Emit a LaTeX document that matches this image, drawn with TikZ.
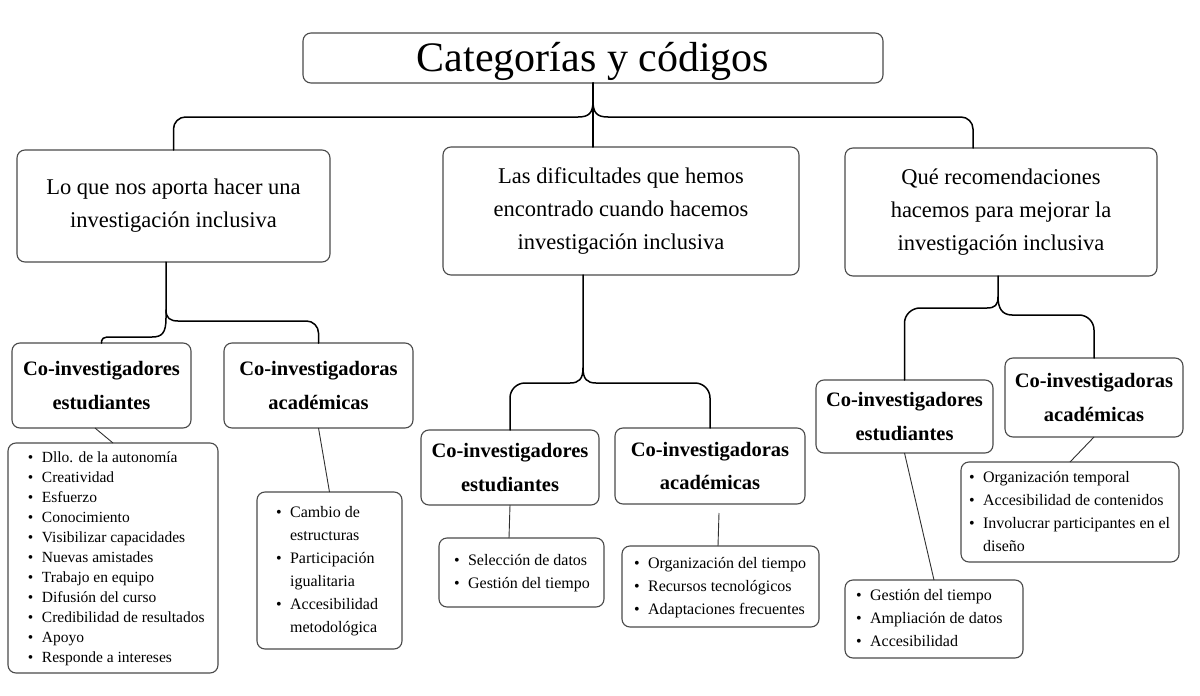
\documentclass[tikz,border=0pt]{standalone}
\usepackage{fontspec}
\setmainfont{Liberation Serif}
\definecolor{boxc}{HTML}{4A4A4A}
\definecolor{linkc}{HTML}{303030}
\newcommand{\blist}[3]{\makebox[#1][l]{\hspace{#2}\begin{tabular}{@{}l@{\hspace{8.5pt}}l@{}}#3\end{tabular}}}
\tikzset{
  box/.style={draw=boxc, line width=1.1pt, rounded corners=8pt, anchor=north west,
    inner sep=0pt, outer sep=0pt, align=center},
  topbox/.style={box, font=\fontsize{22.5}{33}\selectfont},
  subbox/.style={box, font=\bfseries\fontsize{20.5}{33.5}\selectfont},
  listbox/.style={box, font=\fontsize{16}{23}\selectfont},
  brace/.style={draw=black, line width=1.5pt, line cap=round, line join=round},
  link/.style={draw=linkc, line width=0.9pt}
}
\begin{document}
\begin{tikzpicture}[x=1pt,y=-1pt]
\useasboundingbox (0,0) rectangle (1200,696);
\fill[white] (0,0) rectangle (1200,696);

% title
\node[box, minimum width=580pt, minimum height=50pt,
      font=\fontsize{42}{50}\selectfont] (T) at (303,33)
  {\raisebox{-3pt}[\height][\depth]{Categorías y códigos}};

% level 1
\node[topbox, minimum width=313pt, minimum height=112pt] (A) at (17,150)
  {Lo que nos aporta hacer una\\investigación inclusiva};
\node[topbox, minimum width=356pt, minimum height=128pt] (B) at (443,147)
  {Las dificultades que hemos\\encontrado cuando hacemos\\investigación inclusiva};
\node[topbox, minimum width=312pt, minimum height=128pt] (C) at (845,148)
  {Qué recomendaciones\\hacemos para mejorar la\\investigación inclusiva};

% level 2
\node[subbox, minimum width=179pt, minimum height=85pt] (A1) at (12,343)
  {Co-investigadores\\estudiantes};
\node[subbox, minimum width=189pt, minimum height=85pt] (A2) at (224,343)
  {Co-investigadoras\\académicas};
\node[subbox, minimum width=178pt, minimum height=75pt] (B1) at (421,430)
  {Co-investigadores\\estudiantes};
\node[subbox, minimum width=190pt, minimum height=76pt] (B2) at (615,428)
  {Co-investigadoras\\académicas};
\node[subbox, minimum width=177pt, minimum height=73pt] (C1) at (816,380)
  {Co-investigadores\\estudiantes};
\node[subbox, minimum width=178pt, minimum height=79pt] (C2) at (1005,358)
  {Co-investigadoras\\académicas};

% level 3 lists
\node[listbox, font=\fontsize{15.5}{20}\selectfont, minimum height=230pt] (A1L) at (8,443)
  {\blist{210pt}{20pt}{%
   \textbullet & Dllo. de la autonomía\\
   \textbullet & Creatividad\\
   \textbullet & Esfuerzo\\
   \textbullet & Conocimiento\\
   \textbullet & Visibilizar capacidades\\
   \textbullet & Nuevas amistades\\
   \textbullet & Trabajo en equipo\\
   \textbullet & Difusión del curso\\
   \textbullet & Credibilidad de resultados\\
   \textbullet & Apoyo\\
   \textbullet & Responde a intereses}};
\node[listbox, minimum height=157pt] (A2L) at (257,492)
  {\blist{145pt}{19pt}{%
   \textbullet & Cambio de\\ & estructuras\\
   \textbullet & Participación\\ & igualitaria\\
   \textbullet & Accesibilidad\\ & metodológica}};
\node[listbox, minimum height=69pt] (B1L) at (439,538)
  {\blist{165pt}{15pt}{%
   \textbullet & Selección de datos\\
   \textbullet & Gestión del tiempo}};
\node[listbox, minimum height=81pt] (B2L) at (622,546)
  {\blist{197pt}{12pt}{%
   \textbullet & Organización del tiempo\\
   \textbullet & Recursos tecnológicos\\
   \textbullet & Adaptaciones frecuentes}};
\node[listbox, minimum height=78pt] (C1L) at (845,580)
  {\blist{178pt}{11pt}{%
   \textbullet & Gestión del tiempo\\
   \textbullet & Ampliación de datos\\
   \textbullet & Accesibilidad}};
\node[listbox, minimum height=100pt] (C2L) at (961,462)
  {\blist{218pt}{8pt}{%
   \textbullet & Organización temporal\\
   \textbullet & Accesibilidad de contenidos\\
   \textbullet & Involucrar participantes en el\\ & diseño}};

% top brace
\draw[brace] (T.south) -- (T.south |- B.north);
\draw[brace] (T.south) -- (593,101) .. controls (593,113) and (589,117) .. (578,117)
  -- (185.5,117) .. controls (178.9,117) and (173.5,122.4) .. (173.5,129) -- (A.north);
\draw[brace] (T.south) -- (593,101) .. controls (593,113) and (597,117) .. (608,117)
  -- (961,117) .. controls (967.6,117) and (973,122.4) .. (973,129) -- ([xshift=-28pt]C.north);

% brace below A
\draw[brace] ([xshift=-7.5pt]A.south) -- (166,318) .. controls (166,333) and (162,337) .. (152,337)
  -- (107,337) .. controls (104,337) and (101.5,339) .. (101.5,341) -- (A1.north);
\draw[brace] (166,310) .. controls (166,318) and (170,321) .. (178,321)
  -- (306.5,321) .. controls (313.1,321) and (318.5,326.4) .. (318.5,333) -- (A2.north);

% brace below B
\draw[brace] ([xshift=-38pt]B.south) -- (583,368) .. controls (583,379) and (579,383) .. (570,383)
  -- (525,383) .. controls (516.7,383) and (510,389.7) .. (510,398) -- (B1.north);
\draw[brace] (583,368) .. controls (583,379) and (587,383) .. (596,383)
  -- (695,383) .. controls (703.3,383) and (710,389.7) .. (710,398) -- (B2.north);

% brace below C
\draw[brace] ([xshift=-3pt]C.south) -- (998,297) .. controls (998,305) and (995,308) .. (987,308)
  -- (920,308) .. controls (911.7,308) and (904.5,314.7) .. (904.5,323) -- (C1.north);
\draw[brace] (998,297) .. controls (998,308) and (1002,315) .. (1012,315)
  -- (1079,315) .. controls (1087.3,315) and (1094,321.7) .. (1094,330) -- (C2.north);

% thin links to lists
\draw[link] ([xshift=-6.5pt]A1.south) -- (A1L.north);
\draw[link] (A2.south) -- (A2L.north);
\draw[link] (B1.south) -- ([xshift=-12.5pt]B1L.north);
\draw[link] ([xshift=9pt,yshift=-9pt]B2.south) -- ([xshift=-2.5pt]B2L.north);
\draw[link] (C1.south) -- (C1L.north);
\draw[link] (C2.south) -- (C2L.north);
\end{tikzpicture}
\end{document}
